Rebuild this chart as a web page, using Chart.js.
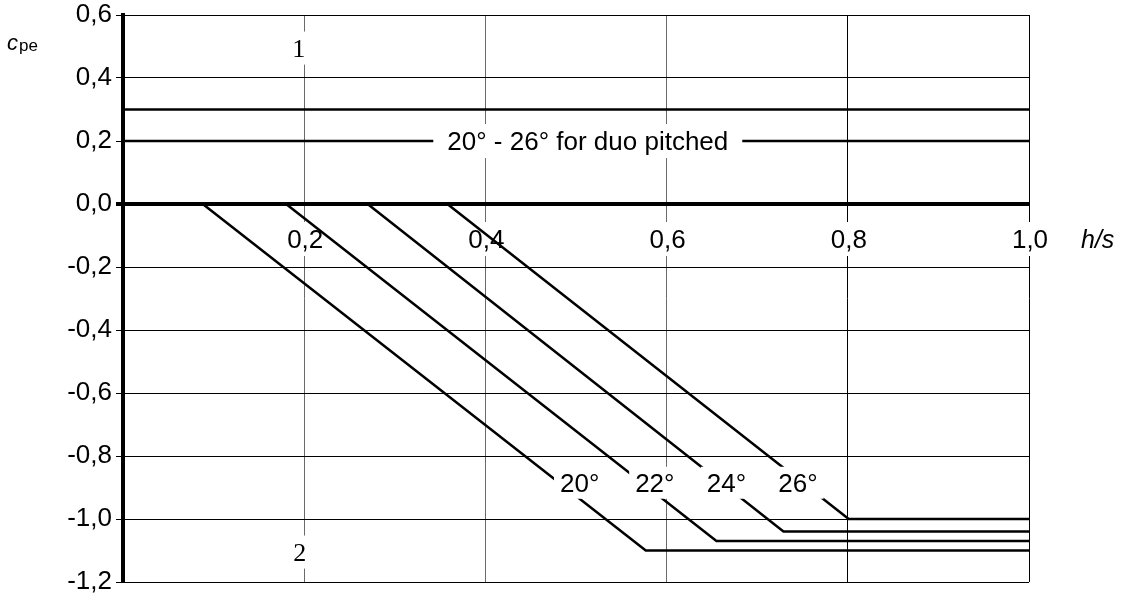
<!DOCTYPE html>
<html><head><meta charset="utf-8">
<script src="https://cdn.jsdelivr.net/npm/chart.js@4.4.0/dist/chart.umd.min.js"></script>
<style>html,body{margin:0;padding:0;background:#fff;}canvas{display:block;}</style>
</head><body>
<canvas id="c" width="1125" height="598"></canvas>
<script>
// ---- axis ticks ----
const xTickValues = [0, 0.2, 0.4, 0.6, 0.8, 1.0];
const xTickLabels = ['0,2', '0,4', '0,6', '0,8', '1,0'];
const xTickLabelValues = [0.2, 0.4, 0.6, 0.8, 1.0];
const yTickValues = [-1.2, -1.0, -0.8, -0.6, -0.4, -0.2, 0, 0.2, 0.4, 0.6];

// ---- series (h/s , c_pe) ----
const upperX = [0, 1.0];
const upperY = [0.3, 0.3];
const duoX = [0, 1.0];
const duoY = [0.2, 0.2];
const x20 = [0.088, 0.577, 1.0];
const y20 = [0, -1.10, -1.10];
const x22 = [0.180, 0.655, 1.0];
const y22 = [0, -1.07, -1.07];
const x24 = [0.270, 0.729, 1.0];
const y24 = [0, -1.04, -1.04];
const x26 = [0.358, 0.801, 1.0];
const y26 = [0, -1.00, -1.00];
const seriesNames = ['0,3', '20° - 26° for duo pitched', '20°', '22°', '24°', '26°'];

// ---- annotation texts and their anchor (data units) ----
const SANS = '"Liberation Sans", Arial, Helvetica, sans-serif';
const SERIF = '"Liberation Serif", "Times New Roman", serif';
const notes = [
  {text: '20° - 26° for duo pitched', x: 0.513, y: 0.2, size: 26, fam: SANS, padX: 14, h: 34, layer: 'over'},
  {text: '20°', x: 0.504, y: -0.885, size: 26, fam: SANS, padX: 6, h: 32, layer: 'over'},
  {text: '22°', x: 0.587, y: -0.885, size: 26, fam: SANS, padX: 6, h: 32, layer: 'over'},
  {text: '24°', x: 0.666, y: -0.885, size: 26, fam: SANS, padX: 6, h: 32, layer: 'over'},
  {text: '26°', x: 0.745, y: -0.885, size: 26, fam: SANS, padX: 6, h: 32, layer: 'over'},
  {text: '1', x: 0.194, y: 0.495, size: 26, fam: SERIF, padX: 4, h: 33, layer: 'under'},
  {text: '2', x: 0.195, y: -1.105, size: 26, fam: SERIF, padX: 4, h: 33, layer: 'under'}
];

function pts(xs, ys) { return xs.map((x, i) => ({x: x, y: ys[i]})); }
function fmt(v) { return (Math.round(v * 10) / 10).toFixed(1).replace('.', ','); }

const seriesData = [pts(upperX, upperY), pts(duoX, duoY), pts(x20, y20), pts(x22, y22), pts(x24, y24), pts(x26, y26)];

function drawLabel(ctx, text, cx, cy, size, fam, padX, h, italic) {
  ctx.save();
  ctx.font = (italic ? 'italic ' : '') + size + 'px ' + fam;
  const w = ctx.measureText(text).width;
  ctx.fillStyle = '#fff';
  ctx.fillRect(cx - w / 2 - padX, cy - h / 2, w + 2 * padX, h);
  ctx.fillStyle = '#000';
  ctx.textAlign = 'center';
  ctx.textBaseline = 'alphabetic';
  ctx.fillText(text, cx, cy + size * 0.358);
  ctx.restore();
}

const labelPlugin = {
  id: 'labels',
  beforeDatasetsDraw(chart) {
    const ctx = chart.ctx, xs = chart.scales.x, ys = chart.scales.y;
    const y0 = ys.getPixelForValue(0);
    xTickLabelValues.forEach((v, i) => {
      drawLabel(ctx, xTickLabels[i], xs.getPixelForValue(v) + 1, y0 + 35, 26, SANS, 4, 34);
    });
    notes.filter(n => n.layer === 'under').forEach(n => {
      drawLabel(ctx, n.text, xs.getPixelForValue(n.x), ys.getPixelForValue(n.y), n.size, n.fam, n.padX, n.h);
    });
  },
  afterDatasetsDraw(chart) {
    const ctx = chart.ctx, xs = chart.scales.x, ys = chart.scales.y;
    notes.filter(n => n.layer === 'over').forEach(n => {
      drawLabel(ctx, n.text, xs.getPixelForValue(n.x), ys.getPixelForValue(n.y), n.size, n.fam, n.padX, n.h);
    });
  },
  afterDraw(chart) {
    const ctx = chart.ctx, ys = chart.scales.y;
    ctx.save();
    ctx.fillStyle = '#000';
    ctx.textBaseline = 'alphabetic';
    ctx.textAlign = 'left';
    ctx.font = 'italic 22px ' + SANS;
    ctx.fillText('c', 7, 50);
    ctx.font = '17px ' + SANS;
    ctx.fillText('pe', 19, 51);
    ctx.font = 'italic 25px ' + SANS;
    ctx.fillText('h/s', 1081, ys.getPixelForValue(0) + 44);
    ctx.restore();
  }
};

new Chart(document.getElementById('c'), {
  type: 'scatter',
  data: {
    datasets: seriesData.map((d, i) => ({
      label: seriesNames[i],
      data: d,
      showLine: true,
      borderColor: '#000',
      backgroundColor: '#000',
      borderWidth: 2.5,
      pointRadius: 0,
      pointHoverRadius: 0,
      tension: 0
    }))
  },
  options: {
    responsive: false,
    animation: false,
    devicePixelRatio: 1,
    layout: {padding: {top: 15, right: 96, bottom: 16, left: 0}},
    plugins: {legend: {display: false}, tooltip: {enabled: false}},
    scales: {
      x: {
        type: 'linear', min: 0, max: 1,
        afterBuildTicks: s => { s.ticks = xTickValues.map(v => ({value: v})); },
        afterFit: s => { s.height = 0; s.paddingLeft = 0; s.paddingRight = 0; },
        ticks: {display: false},
        border: {display: false},
        grid: {
          drawTicks: false,
          lineWidth: 1,
          color: c => ([0.2, 0.4, 0.6].some(v => Math.abs(c.tick.value - v) < 1e-6) ? '#6a6a6a' : '#000')
        }
      },
      y: {
        type: 'linear', min: -1.2, max: 0.6,
        afterBuildTicks: s => { s.ticks = yTickValues.map(v => ({value: v})); },
        afterFit: s => { s.width = 123; s.paddingTop = 0; s.paddingBottom = 0; },
        ticks: {
          callback: v => fmt(v),
          color: '#000',
          padding: 4,
          autoSkip: false,
          font: {family: SANS, size: 26, lineHeight: 1}
        },
        border: {display: true, color: '#000', width: 4},
        grid: {
          color: '#000',
          tickColor: '#000',
          tickLength: 7,
          lineWidth: c => (Math.abs(c.tick.value) < 1e-9 ? 4 : 1)
        }
      }
    }
  },
  plugins: [labelPlugin]
});
</script>
</body></html>
